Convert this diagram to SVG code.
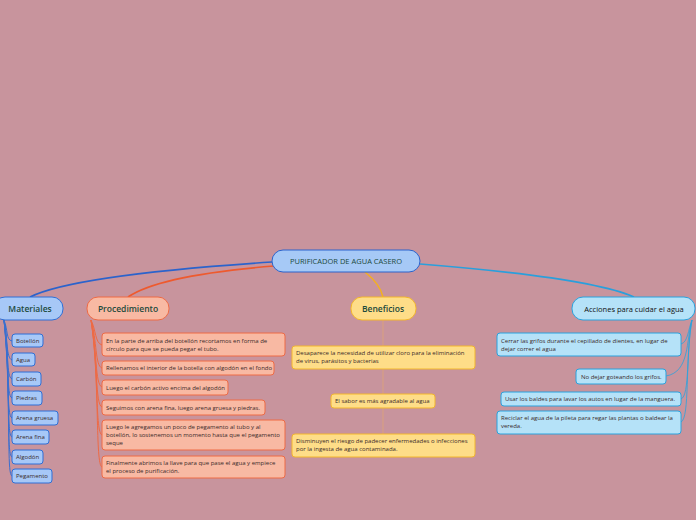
<svg xmlns="http://www.w3.org/2000/svg" width="696" height="520" viewBox="0 0 696 520">
<style>
text{font-family:"Open Sans","Noto Sans",sans-serif;}
.h{font-size:8.5px;fill:#1c4a3c;text-anchor:middle;font-weight:600;}
.t{font-size:6px;fill:#3a2a2a;}
.mat{fill:#a7c8f7;stroke:#2f6fd6;stroke-width:1;}
.pro{fill:#f8b9a3;stroke:#ee6a45;stroke-width:1;}
.ben{fill:#fedd88;stroke:#f3b62c;stroke-width:1;}
.acc{fill:#b5e2f8;stroke:#2aa2dd;stroke-width:1;}
.cm{fill:none;stroke:#3a6fd0;stroke-width:1;}
.cp{fill:none;stroke:#ef6a44;stroke-width:1;}
.ca{fill:none;stroke:#2aa2dd;stroke-width:0.8;}
</style>
<rect width="696" height="520" fill="#c8949d"/>
<g id="connectors">
<path d="M272,262 C150,270 60,282 30,297" fill="none" stroke="#2b63cc" stroke-width="1.6"/>
<path d="M274,266 C200,272 150,282 128,297" fill="none" stroke="#ee5a2e" stroke-width="1.6"/>
<path d="M365,272 C375,280 381,288 383,297" fill="none" stroke="#f3b020" stroke-width="1.6"/>
<path d="M420,264 C520,272 600,282 634,297" fill="none" stroke="#2a9fdc" stroke-width="1.6"/>
<line x1="383" y1="320" x2="383" y2="434" stroke="#e8a86a" stroke-width="0.6"/>
<g class="cm">
<path d="M4,320 C8,330 6,340 12,341"/>
<path d="M4,320 C8,340 6,358 12,360"/>
<path d="M4,320 C9,350 6,377 12,379"/>
<path d="M4,320 C10,360 6,396 12,398"/>
<path d="M4,320 C10,370 6,416 12,418"/>
<path d="M4,320 C11,380 6,435 12,437"/>
<path d="M4,320 C11,390 6,455 12,457"/>
<path d="M4,320 C12,400 6,474 12,476"/>
</g>
<g class="cp">
<path d="M91,320 C96,330 95,343 102,345"/>
<path d="M91,320 C97,340 95,366 102,368"/>
<path d="M91,320 C97,350 95,385 102,387"/>
<path d="M91,320 C98,360 95,405 102,407"/>
<path d="M91,320 C99,370 95,433 102,435"/>
<path d="M91,320 C100,380 95,465 102,467"/>
</g>
<g class="ca">
<path d="M692,320 C688,330 688,342 681,344"/>
<path d="M692,320 C686,340 690,372 666,376"/>
<path d="M692,320 C686,350 690,396 681,399"/>
<path d="M692,320 C685,360 690,418 681,422"/>
</g>
</g>
<g id="central">
<rect x="272" y="250" width="148" height="22" rx="11" fill="#a6c9f6" stroke="#2b63cc" stroke-width="1"/>
<text class="h" x="346" y="264" style="font-size:7.5px;font-weight:500">PURIFICADOR DE AGUA CASERO</text>
</g>
<g id="materiales">
<rect x="-6" y="297" width="69" height="23" rx="11" class="mat"/>
<text class="h" x="30" y="312">Materiales</text>
</g>
<g id="procedimiento">
<rect x="87" y="297" width="82" height="23" rx="11" class="pro"/>
<text class="h" x="128" y="312">Procedimiento</text>
</g>
<g id="beneficios">
<rect x="351" y="297" width="65" height="23" rx="11" class="ben"/>
<text class="h" x="383" y="312">Beneficios</text>
</g>
<g id="acciones">
<rect x="572" y="297" width="123" height="23" rx="11" class="acc"/>
<text class="h" x="634" y="312" style="fill:#111;font-size:7.5px;font-weight:500">Acciones para cuidar el agua</text>
</g>
<g id="m1"><rect x="12" y="334" width="31" height="13" rx="3" class="mat"/><text class="t" x="16" y="343">Botellón</text></g>
<g id="m2"><rect x="12" y="353" width="23" height="13" rx="3" class="mat"/><text class="t" x="16" y="362">Agua</text></g>
<g id="m3"><rect x="12" y="372" width="29" height="14" rx="3" class="mat"/><text class="t" x="16" y="381">Carbón</text></g>
<g id="m4"><rect x="12" y="391" width="30" height="14" rx="3" class="mat"/><text class="t" x="16" y="400">Piedras</text></g>
<g id="m5"><rect x="12" y="411" width="46" height="14" rx="3" class="mat"/><text class="t" x="16" y="420">Arena gruesa</text></g>
<g id="m6"><rect x="12" y="430" width="37" height="14" rx="3" class="mat"/><text class="t" x="16" y="439">Arena fina</text></g>
<g id="m7"><rect x="12" y="450" width="31" height="14" rx="3" class="mat"/><text class="t" x="16" y="459">Algodón</text></g>
<g id="m8"><rect x="12" y="469" width="40" height="14" rx="3" class="mat"/><text class="t" x="16" y="478">Pegamento</text></g>
<g id="p1"><rect x="102" y="333" width="183" height="23" rx="3" class="pro"/><text class="t" x="106" y="343">En la parte de arriba del botellón recortamos en forma de</text><text class="t" x="106" y="351">círculo para que se pueda pegar el tubo.</text></g>
<g id="p2"><rect x="102" y="361" width="172" height="14" rx="3" class="pro"/><text class="t" x="106" y="370">Rellenamos el interior de la botella con algodón en el fondo</text></g>
<g id="p3"><rect x="102" y="380" width="126" height="15" rx="3" class="pro"/><text class="t" x="106" y="389.5">Luego el carbón activo encima del algodón</text></g>
<g id="p4"><rect x="102" y="400" width="163" height="15" rx="3" class="pro"/><text class="t" x="106" y="409.5">Seguimos con arena fina, luego arena gruesa y piedras.</text></g>
<g id="p5"><rect x="102" y="420" width="183" height="30" rx="3" class="pro"/><text class="t" x="106" y="429">Luego le agregamos un poco de pegamento al tubo y al</text><text class="t" x="106" y="437">botellón, lo sostenemos un momento hasta que el pegamento</text><text class="t" x="106" y="445">seque</text></g>
<g id="p6"><rect x="102" y="456" width="183" height="22" rx="3" class="pro"/><text class="t" x="106" y="465">Finalmente abrimos la llave para que pase el agua y empiece</text><text class="t" x="106" y="473">el proceso de purificación.</text></g>
<g id="b1"><rect x="292" y="346" width="183" height="23" rx="3" class="ben"/><text class="t" x="296" y="355">Desaparece la necesidad de utilizar cloro para la eliminación</text><text class="t" x="296" y="363">de virus, parásitos y bacterias</text></g>
<g id="b2"><rect x="331" y="394" width="104" height="14" rx="3" class="ben"/><text class="t" x="335" y="403">El sabor es más agradable al agua</text></g>
<g id="b3"><rect x="292" y="434" width="183" height="23" rx="3" class="ben"/><text class="t" x="296" y="443">Disminuyen el riesgo de padecer enfermedades o infecciones</text><text class="t" x="296" y="451">por la ingesta de agua contaminada.</text></g>
<g id="a1"><rect x="497" y="333" width="184" height="23" rx="3" class="acc"/><text class="t" x="501" y="343">Cerrar las grifos durante el cepillado de dientes, en lugar de</text><text class="t" x="501" y="351">dejar correr el agua</text></g>
<g id="a2"><rect x="576" y="369" width="90" height="15" rx="3" class="acc"/><text class="t" x="581" y="378.5">No dejar goteando los grifos.</text></g>
<g id="a3"><rect x="501" y="392" width="180" height="14" rx="3" class="acc"/><text class="t" x="505" y="401">Usar los baldes para lavar los autos en lugar de la manguera.</text></g>
<g id="a4"><rect x="497" y="411" width="184" height="23" rx="3" class="acc"/><text class="t" x="501" y="420">Reciclar el agua de la pileta para regar las plantas o baldear la</text><text class="t" x="501" y="428">vereda.</text></g>
</svg>
